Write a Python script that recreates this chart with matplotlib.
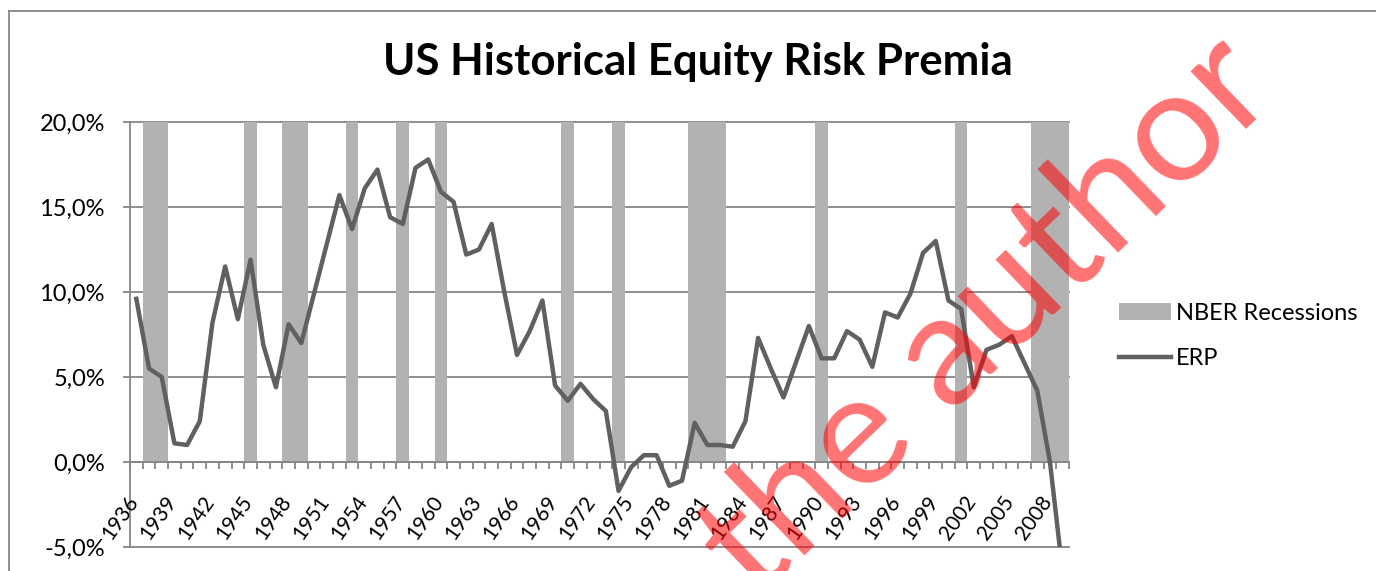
"""
US Historical Equity Risk Premia, 1936-2009, with NBER recession years shaded.
Output: out.png
"""

import numpy as np
import matplotlib
matplotlib.use("Agg")
import matplotlib.pyplot as plt
from matplotlib.lines import Line2D

plt.rcParams["font.family"] = ["Lato", "DejaVu Sans"]

years = list(range(1936, 2010))
erp = [
    9.6, 5.5, 5.0, 1.1, 1.0, 2.4, 8.2, 11.5, 8.4, 11.9,      # 1936-1945
    6.9, 4.4, 8.1, 7.0, 9.9, 12.8, 15.7, 13.7, 16.1, 17.2,   # 1946-1955
    14.4, 14.0, 17.3, 17.8, 15.9, 15.3, 12.2, 12.5, 14.0, 10.0,  # 1956-1965
    6.3, 7.7, 9.5, 4.5, 3.6, 4.6, 3.7, 3.0, -1.7, -0.3,      # 1966-1975
    0.4, 0.4, -1.4, -1.1, 2.3, 1.0, 1.0, 0.9, 2.4, 7.3,      # 1976-1985
    5.5, 3.8, 5.9, 8.0, 6.1, 6.1, 7.7, 7.2, 5.6, 8.8,        # 1986-1995
    8.5, 9.9, 12.3, 13.0, 9.5, 9.0, 4.4, 6.6, 6.9, 7.4,      # 1996-2005
    5.8, 4.2, 0.0, -6.5,                                     # 2006-2009
]
recession_years = [1937, 1938, 1945, 1948, 1949, 1953, 1957, 1960, 1970,
                   1974, 1980, 1981, 1982, 1990, 2001, 2007, 2008, 2009]
recession_height = [20.0] * len(recession_years)
label_years = years[::3]
y_ticks = [-5, 0, 5, 10, 15, 20]

GRAY_AXIS = "#868686"
W, H = 1376, 571

fig = plt.figure(figsize=(W / 100, H / 100), dpi=100)
ax = fig.add_axes([130 / W, 1 - 547 / H, (1069 - 130) / W, (547 - 122) / H])

bars = ax.bar(recession_years, recession_height, width=1.0, color="#B2B2B2",
              zorder=1)
line, = ax.plot(years, erp, color="#606060", lw=3.2, zorder=3)

ax.set_xlim(years[0] - 0.5, years[-1] + 0.5)
ax.set_ylim(-5, 20)

# y axis: gridlines + comma decimal labels
ax.set_axisbelow(True)
ax.set_yticks(y_ticks)
ax.set_yticklabels([f"{v:.1f}".replace(".", ",") + "%" for v in y_ticks])
ax.yaxis.grid(True, color=GRAY_AXIS, lw=1.3)
for gl in ax.yaxis.get_gridlines():
    gl.set_clip_on(False)
ax.tick_params(axis="y", direction="out", length=5, width=1.3,
               color=GRAY_AXIS, pad=13, labelsize=17)

# category axis crossing at zero, ticks between categories
ax.spines["bottom"].set_position(("data", 0))
ax.set_xticks(np.arange(years[0] - 0.5, years[-1] + 1, 1))
ax.set_xticklabels([])
ax.tick_params(axis="x", direction="out", length=5, width=1.3,
               color=GRAY_AXIS)
for side in ["top", "right"]:
    ax.spines[side].set_visible(False)
for side in ["left", "bottom"]:
    ax.spines[side].set_color(GRAY_AXIS)
    ax.spines[side].set_linewidth(1.3)

# rotated year labels, every third category
for yr in label_years:
    ax.text(yr - 0.8, -1.75, str(yr), rotation=55, ha="right", va="top",
            rotation_mode="anchor", fontsize=15)

fig.text(698 / W, 1 - 62 / H, "US Historical Equity Risk Premia",
         ha="center", va="center", fontsize=31.5, fontweight="bold")

ax.legend([bars, line], ["NBER Recessions", "ERP"], loc="center left",
          bbox_to_anchor=(1119 / W, 1 - 336 / H), bbox_transform=fig.transFigure,
          frameon=False, handlelength=2.2, handletextpad=0.22,
          labelspacing=1.05, fontsize=17, borderpad=0, borderaxespad=0)

# chart area border (only top and left edges are inside the crop)
fig.add_artist(Line2D([9 / W, 9 / W], [0, 1 - 11 / H], transform=fig.transFigure,
                      color=GRAY_AXIS, lw=1.3))
fig.add_artist(Line2D([9 / W, 1], [1 - 11 / H, 1 - 11 / H],
                      transform=fig.transFigure, color=GRAY_AXIS, lw=1.3))

# watermark
fig.text(987 / W, 1 - 317 / H, "the author", rotation=44, color="red",
         alpha=0.55, fontsize=114, ha="center", va="center",
         rotation_mode="anchor", zorder=10)

fig.savefig("out.png", dpi=100)
